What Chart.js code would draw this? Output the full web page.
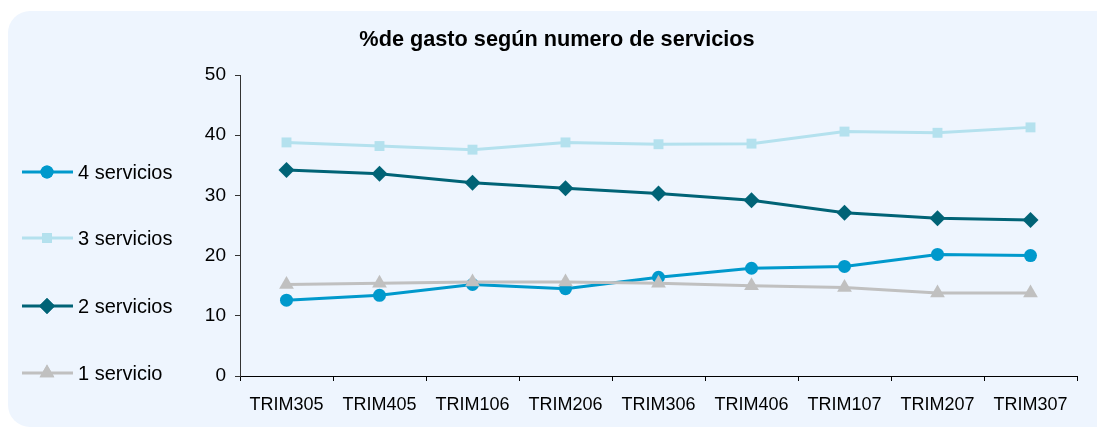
<!DOCTYPE html>
<html>
<head>
<meta charset="utf-8">
<script src="https://cdn.jsdelivr.net/npm/chart.js@4.4.1/dist/chart.umd.min.js"></script>
<style>
    html, body { margin: 0; padding: 0; background: #fff; }
    #wrap { position: relative; width: 1097px; height: 428px; overflow: hidden; }
    #panel { position: absolute; left: 8px; top: 11px; width: 1110px; height: 416px; background: #eef5fe; border-radius: 22px; }
    #chart { position: absolute; left: 0; top: 0; }
</style>
</head>
<body>
<div id="wrap">
    <div id="panel"></div>
    <canvas id="chart" width="1097" height="428"></canvas>
</div>
<script>
const chartTitle = '%de gasto según numero de servicios';
const categories = ['TRIM305', 'TRIM405', 'TRIM106', 'TRIM206', 'TRIM306', 'TRIM406', 'TRIM107', 'TRIM207', 'TRIM307'];
const seriesNames = ['4 servicios', '3 servicios', '2 servicios', '1 servicio'];
const servicios4 = [12.6, 13.4, 15.2, 14.5, 16.4, 17.9, 18.2, 20.2, 20.0];
const servicios3 = [38.8, 38.2, 37.6, 38.8, 38.5, 38.6, 40.6, 40.4, 41.3];
const servicios2 = [34.2, 33.6, 32.1, 31.2, 30.3, 29.2, 27.1, 26.2, 25.9];
const servicios1 = [15.2, 15.4, 15.6, 15.6, 15.4, 15.0, 14.7, 13.8, 13.8];
const yTicks = [0, 10, 20, 30, 40, 50];

const FONT = '"Liberation Sans", Arial, sans-serif';

function line(label, data, color, style, radius, order) {
    return {
        label,
        data,
        borderColor: color,
        backgroundColor: color,
        borderWidth: 3,
        pointStyle: style,
        pointRadius: radius,
        pointHoverRadius: radius,
        pointBorderWidth: 0,
        tension: 0,
        order
    };
}

// title and left-hand legend drawn straight onto the canvas
const sidePieces = {
    id: 'sidePieces',
    afterDraw(chart) {
        const c = chart.ctx;
        c.save();
        c.fillStyle = '#000';
        c.font = 'bold 21.7px ' + FONT;
        c.textAlign = 'center';
        c.textBaseline = 'middle';
        c.fillText(chartTitle, 557, 40);

        const rows = [172, 238, 306, 373];
        c.font = '20px ' + FONT;
        c.textAlign = 'left';
        chart.data.datasets.forEach((ds, i) => {
            const y = rows[i];
            c.strokeStyle = ds.borderColor;
            c.lineWidth = 3;
            c.beginPath();
            c.moveTo(22, y);
            c.lineTo(73, y);
            c.stroke();
            c.fillStyle = ds.borderColor;
            Chart.helpers.drawPoint(c, {pointStyle: ds.pointStyle, radius: ds.pointRadius, borderWidth: 0}, 47, y);
            c.fill();
            c.fillStyle = '#000';
            c.fillText(ds.label, 78, y + 1);
        });
        c.restore();
    }
};

new Chart(document.getElementById('chart'), {
    type: 'line',
    data: {
        labels: categories,
        datasets: [
            line(seriesNames[0], servicios4, '#0099cc', 'circle', 6.5, 4),
            line(seriesNames[1], servicios3, '#b4e1ee', 'rect', 7, 3),
            line(seriesNames[2], servicios2, '#006376', 'rectRot', 8, 2),
            line(seriesNames[3], servicios1, '#c0c0c0', 'triangle', 8.5, 1)
        ]
    },
    options: {
        responsive: false,
        animation: false,
        layout: { padding: { left: 0, right: 20, top: 75, bottom: 0 } },
        plugins: {
            legend: { display: false },
            title: { display: false },
            tooltip: { enabled: false }
        },
        scales: {
            x: {
                offset: true,
                afterFit(scale) { scale.height = 52; },
                border: { color: '#000', width: 1 },
                grid: { display: true, drawOnChartArea: false, drawTicks: true, tickLength: 5, color: '#000', offset: true },
                ticks: { color: '#000', font: { family: FONT, size: 18 }, padding: 13, maxRotation: 0, autoSkip: false }
            },
            y: {
                min: 0,
                max: 50,
                afterFit(scale) { scale.width = 240; },
                afterBuildTicks(scale) { scale.ticks = yTicks.map(v => ({ value: v })); },
                border: { color: '#333', width: 1 },
                grid: { display: true, drawOnChartArea: false, drawTicks: true, tickLength: 5, color: '#333' },
                ticks: { color: '#000', font: { family: FONT, size: 19 }, padding: 9 }
            }
        }
    },
    plugins: [sidePieces]
});
</script>
</body>
</html>
